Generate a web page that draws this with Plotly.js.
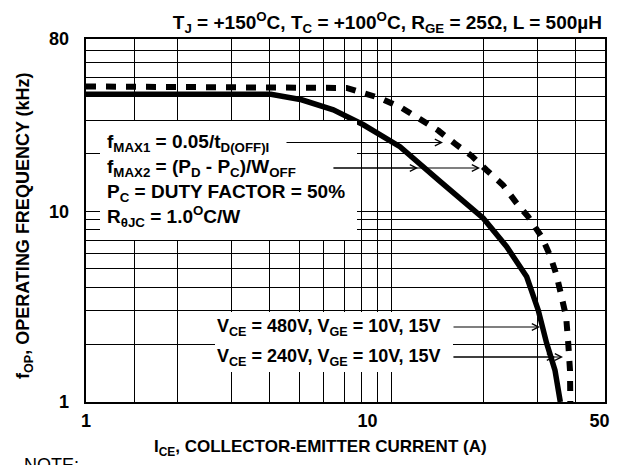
<!DOCTYPE html>
<html>
<head>
<meta charset="utf-8">
<script src="https://cdn.plot.ly/plotly-3.0.1.min.js"></script>
<style>html,body{margin:0;padding:0;background:#fff;}#chart{width:629px;height:465px;}</style>
</head>
<body>
<div id="chart"></div>
<script>
// ---- data ----
const solidX = [1, 4.03, 5.08, 6.45, 8.09, 10.66, 14.23, 19.97, 23.83, 27.71, 30.23, 32.21, 34.29, 35.6, 35.7];
const solidY = [41.0, 41.0, 38.4, 34.0, 28.4, 21.8, 14.6, 9.19, 6.52, 4.53, 3.03, 2.03, 1.47, 1.02, 1.0];
const dotX = [1, 5.53, 7.13, 9.17, 10.80, 12.40, 14.23, 16.14, 18.30, 20.50, 23.2, 25.7, 28.0, 31.0, 33.0, 34.7, 36.1, 37.3, 37.9, 38.4, 38.5];
const dotY = [45.1, 45.1, 44.3, 39.2, 34.8, 30.4, 26.5, 22.6, 19.5, 16.4, 13.7, 11.0, 9.37, 7.36, 5.89, 4.63, 3.56, 2.80, 2.03, 1.47, 1.0];

const xExtraGrid = [1.44];
const xTickVals = [1, 8.35, 48];
const xTickText = ['1', '10', '50'];
const yTickVals = [1, 10, 80];
const yTickText = ['1', '10', '80'];

const titleText = 'T<sub>J</sub> = +150<sup>O</sup>C, T<sub>C</sub> = +100<sup>O</sup>C, R<sub>GE</sub> = 25Ω, L = 500µH';
const xTitle = 'I<sub>CE</sub>, COLLECTOR-EMITTER CURRENT (A)';
const yTitle = 'f<sub>OP</sub>, OPERATING FREQUENCY (kHz)';
const boxLines = [
  'f<sub>MAX1</sub> = 0.05/t<sub>D(OFF)I</sub>',
  'f<sub>MAX2</sub> = (P<sub>D</sub> - P<sub>C</sub>)/W<sub>OFF</sub>',
  'P<sub>C</sub> = DUTY FACTOR = 50%',
  'R<sub>θJC</sub> = 1.0<sup>O</sup>C/W'
];
const vceLines = [
  'V<sub>CE</sub> = 480V, V<sub>GE</sub> = 10V, 15V',
  'V<sub>CE</sub> = 240V, V<sub>GE</sub> = 10V, 15V'
];

// ---- layout helpers (pixel -> paper) ----
const L = 86, R = 605, T = 39, B = 402, W = 629, H = 465;
const px = v => (v - L) / (R - L);
const py = v => (B - v) / (B - T);
const FF = 'Liberation Sans, Arial, Helvetica, sans-serif';
const bold = s => ({family: FF, size: s, color: '#000', weight: 700});

const traces = [
  {x: solidX, y: solidY, mode: 'lines', line: {color: '#000', width: 5.5}, hoverinfo: 'skip', showlegend: false},
  {x: dotX, y: dotY, mode: 'lines', line: {color: '#000', width: 6, dash: '10px,10px'}, hoverinfo: 'skip', showlegend: false},
  {x: [], y: [], xaxis: 'x2', yaxis: 'y2', mode: 'lines', hoverinfo: 'skip', showlegend: false},
  {x: [], y: [], xaxis: 'x3', yaxis: 'y', mode: 'lines', hoverinfo: 'skip', showlegend: false}
];

const annotations = [];
const boxY = [143, 168, 193, 217];
boxLines.forEach((t, i) => annotations.push({xref: 'paper', yref: 'paper', x: px(105), y: py(boxY[i]), xanchor: 'left', yanchor: 'middle', text: t, showarrow: false, font: bold(19)}));
const vceY = [327, 357];
vceLines.forEach((t, i) => annotations.push({xref: 'paper', yref: 'paper', x: px(443), y: py(vceY[i]), xanchor: 'right', yanchor: 'middle', text: t, showarrow: false, font: bold(18)}));

const arrows = [[443, 142.5, 285], [418, 168, 332], [480, 168, 332], [540, 327, 452], [555, 357, 452], [563, 357, 452]];
arrows.forEach(a => annotations.push({xref: 'paper', yref: 'paper', x: px(a[0]), y: py(a[1]), ax: a[2] - a[0], ay: 0, text: '', showarrow: true, arrowhead: 5, arrowsize: 1.1, arrowwidth: 1.2, arrowcolor: '#000'}));

annotations.push({xref: 'paper', yref: 'paper', x: px(320), y: py(448), xanchor: 'center', yanchor: 'middle', text: xTitle, showarrow: false, font: bold(17)});
annotations.push({xref: 'paper', yref: 'paper', x: px(24), y: py(226), xanchor: 'center', yanchor: 'middle', textangle: -90, text: yTitle, showarrow: false, font: bold(18)});
annotations.push({xref: 'paper', yref: 'paper', x: px(22), y: py(453), xanchor: 'left', yanchor: 'top', text: 'NOTE:', showarrow: false, font: {family: FF, size: 18, color: '#000'}});

const shapes = [
  {type: 'rect', xref: 'paper', yref: 'paper', x0: px(100), x1: px(357), y0: py(240), y1: py(121), fillcolor: '#fff', line: {width: 0}, layer: 'above'},
  {type: 'rect', xref: 'paper', yref: 'paper', x0: px(215), x1: px(453), y0: py(372), y1: py(312), fillcolor: '#fff', line: {width: 0}, layer: 'above'}
];

const gridAxis = range => ({
  type: 'log', range: range, tickmode: 'linear', tick0: 0, dtick: 'D1',
  showticklabels: false, ticks: '', showgrid: true, gridcolor: '#000', gridwidth: 1,
  showline: true, mirror: true, linecolor: '#000', linewidth: 2, zeroline: false
});
const labelAxis = (range, vals, text, extra) => Object.assign({
  type: 'log', range: range, tickmode: 'array', tickvals: vals, ticktext: text,
  ticks: '', showgrid: false, showline: false, zeroline: false, tickfont: bold(18)
}, extra);

const xr = [0, Math.log10(50)], yr = [0, Math.log10(80)];
const layout = {
  width: W, height: H,
  margin: {l: L, r: W - R, t: T, b: H - B, pad: 0},
  paper_bgcolor: '#fff', plot_bgcolor: '#fff',
  showlegend: false,
  title: {text: titleText, font: bold(19), xref: 'container', yref: 'container', x: 602 / W, xanchor: 'right', y: 1 - 22 / H, yanchor: 'middle'},
  xaxis: gridAxis(xr),
  yaxis: gridAxis(yr),
  xaxis2: labelAxis(xr, xTickVals, xTickText, {overlaying: 'x', anchor: 'y', side: 'bottom', ticklabelstandoff: 6}),
  yaxis2: labelAxis(yr, yTickVals, yTickText, {overlaying: 'y', anchor: 'x', side: 'left', ticklabelstandoff: 16}),
  xaxis3: {type: 'log', range: xr, overlaying: 'x', anchor: 'y', side: 'bottom', tickmode: 'array', tickvals: xExtraGrid,
           showticklabels: false, ticks: '', showgrid: true, gridcolor: '#000', gridwidth: 1, showline: false, zeroline: false},
  annotations: annotations,
  shapes: shapes
};

Plotly.newPlot('chart', traces, layout, {displayModeBar: false});
</script>
</body>
</html>
